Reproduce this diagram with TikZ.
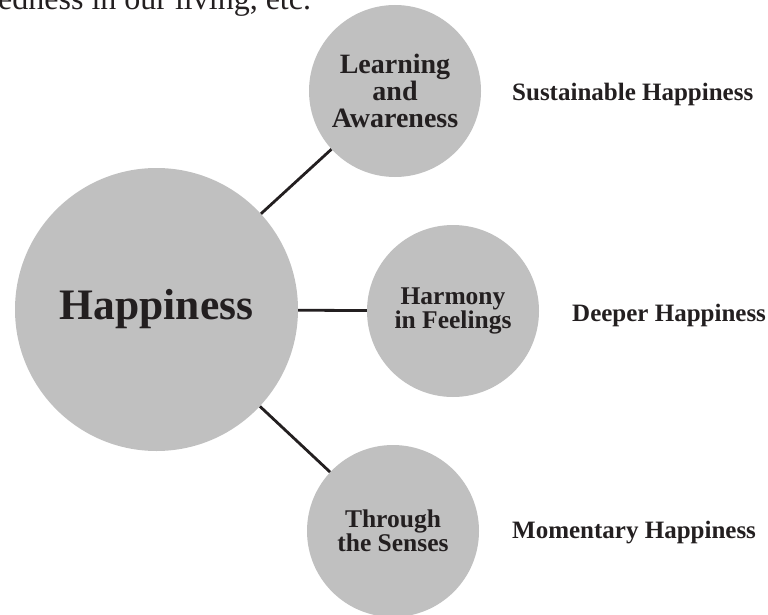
\documentclass[tikz,border=0pt]{standalone}
\usepackage{fontspec}
\setmainfont{Liberation Serif}
\usepackage{tikz}
\usetikzlibrary{positioning}

\definecolor{bubblegray}{RGB}{192,192,192}
\definecolor{inkblack}{RGB}{35,31,32}

\begin{document}
\begin{tikzpicture}[
        x=1pt, y=-1pt,
        text=inkblack,
        bubble/.style={circle, fill=bubblegray, inner sep=0pt, align=center, font=\bfseries\fontsize{25.5}{24.5}\selectfont},
        level/.style={anchor=base west, inner sep=0pt, font=\bfseries\fontsize{25}{25}\selectfont},
        link/.style={draw=inkblack, line width=2.8pt}
    ]
    \useasboundingbox (0,0) rectangle (768,615);

    % Cut-off line of running text
    \node[anchor=base west, inner sep=0pt, font=\fontsize{32}{32}\selectfont] (runon) at (-2,10) {edness in our living, etc.};

    % Main bubble
    \node[bubble, minimum size=283pt, font=\bfseries\fontsize{43.5}{43}\selectfont] (happy) at (156.5,309.5) {Happiness};

    % Three ways
    \node[bubble, minimum size=172pt, font=\bfseries\fontsize{28}{27}\selectfont] (learn) at (395,91) {Learning\\and\\Awareness};
    \node[bubble, minimum size=172pt] (harmony) at (453,311) {Harmony\\in Feelings};
    \node[bubble, minimum size=172pt] (senses) at (393,531) {Through\\the Senses};

    % Links
    \draw[link] (happy) -- (learn);
    \draw[link] (happy) -- (harmony);
    \draw[link] (happy) -- (senses);

    % Kinds of happiness
    \node[level] (sustain) at (512,101) {Sustainable Happiness};
    \node[level] (deeper) at (572,321) {Deeper Happiness};
    \node[level] (moment) at (512,538) {Momentary Happiness};

\end{tikzpicture}
\end{document}
